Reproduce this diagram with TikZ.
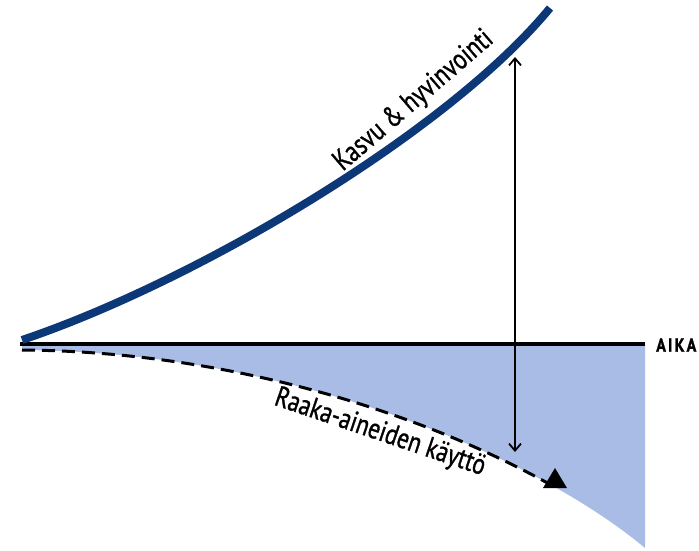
\documentclass[tikz,border=0pt]{standalone}
\usepackage{fontspec}
\setmainfont{PT Sans}[FakeStretch=0.8,FakeBold=1]
\newfontfamily\aikafont{PT Sans Bold}[FakeStretch=0.85,FakeBold=1]
\usetikzlibrary{arrows.meta}
\definecolor{navy}{RGB}{12,56,120}
\definecolor{lightblue}{RGB}{168,188,230}
\tikzset{
  growth/.style={line width=8pt, navy},
  axisline/.style={line width=3.5pt, black},
  usage/.style={line width=3pt, black, dash pattern=on 13pt off 7pt},
  gap/.style={line width=1.8pt, {Straight Barb[length=7pt,width=12pt]}-{Straight Barb[length=7pt,width=12pt]}},
  lbl/.style={font=\fontsize{29}{31}\selectfont, inner sep=0pt}
}
\begin{document}
\begin{tikzpicture}[x=1pt,y=-1pt]
\useasboundingbox (0,0) rectangle (699,550);
% fill region
\fill[lightblue] (22,344) -- (645,344) -- (645,548) .. controls (540,460) and (300,352) .. (22,350) -- cycle;
% dashed usage curve
\begin{scope}
\clip (0,340) rectangle (549,550);
\draw[usage] (22,350) .. controls (300,352) and (540,460) .. (645,548);
\end{scope}
\fill[black] (543,488) -- (567,488) -- (555,468) -- cycle;
% axis
\coordinate (a0) at (20,344);
\coordinate (a1) at (645,344);
\draw[axisline] (a0) -- (a1);
\node[font=\aikafont\fontsize{19}{20}\selectfont, anchor=west, inner sep=0pt] (aika) at (656,345) {A\kern2pt I\kern2pt K\kern2pt A};
% growth curve
\draw[growth] (22,340) .. controls (200,280) and (450,130) .. (550,8);
% double arrow
\coordinate (top) at (515,57);
\coordinate (bot) at (515,452);
\draw[gap] (top) -- (bot);
% labels
\node[lbl, rotate=40.6] (kasvu) at (414,101) {Kasvu \& hyvinvointi};
\node[lbl, rotate=-18.7] (raaka) at (380,433) {Raaka-aineiden käyttö};
\end{tikzpicture}
\end{document}
